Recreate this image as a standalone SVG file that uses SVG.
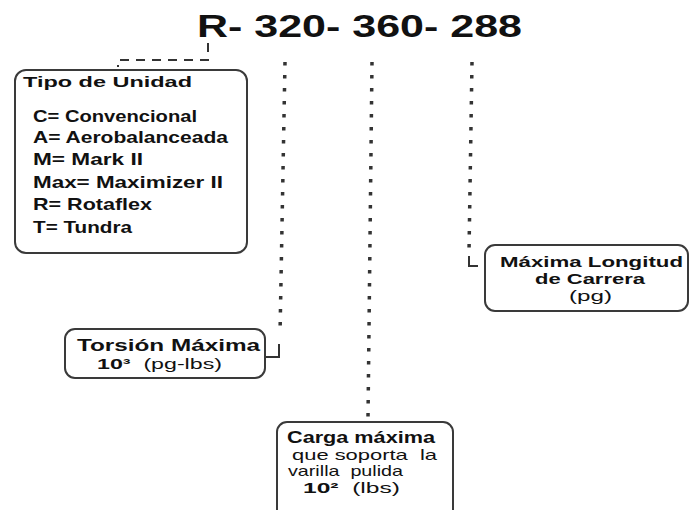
<svg xmlns="http://www.w3.org/2000/svg" width="691" height="510" viewBox="0 0 691 510">
<style>
text{font-family:"Liberation Sans",Arial,sans-serif;fill:#111}
.b{font-weight:bold}
.box{fill:#fff;stroke:#3a3a3a;stroke-width:2}
.dot{fill:none;stroke:#333;stroke-width:3.5;stroke-dasharray:3.5 9.5}
.ln{fill:none;stroke:#333;stroke-width:2}
</style>
<rect width="691" height="510" fill="#fff"/>
<g id="code">
<text class="b" x="197" y="37" font-size="31" textLength="325" lengthAdjust="spacingAndGlyphs">R- 320- 360- 288</text>
</g>
<g id="connectors">
<path class="ln" d="M208,43 V60 H118 V67" stroke-dasharray="9 7"/>
<path class="dot" d="M285,62 L280,335"/>
<path class="ln" d="M279,344 V357 H266"/>
<path class="dot" d="M372,62 L368,418"/>
<path class="dot" d="M472,62 L469,252"/>
<path class="ln" d="M469,256 V266 H478"/>
</g>
<g id="tipo">
<rect class="box" x="15" y="70" width="232" height="183" rx="11"/>
<text class="b" x="23" y="87" font-size="15.5" textLength="169" lengthAdjust="spacingAndGlyphs">Tipo de Unidad</text>
<text class="b" x="33" y="122" font-size="16.5" textLength="164" lengthAdjust="spacingAndGlyphs">C= Convencional</text>
<text class="b" x="33" y="143" font-size="16.5" textLength="195" lengthAdjust="spacingAndGlyphs">A= Aerobalanceada</text>
<text class="b" x="33" y="165" font-size="16.5" textLength="110" lengthAdjust="spacingAndGlyphs">M= Mark II</text>
<text class="b" x="33" y="188" font-size="16.5" textLength="190" lengthAdjust="spacingAndGlyphs">Max= Maximizer II</text>
<text class="b" x="33" y="210" font-size="16.5" textLength="119" lengthAdjust="spacingAndGlyphs">R= Rotaflex</text>
<text class="b" x="33" y="233" font-size="16.5" textLength="99" lengthAdjust="spacingAndGlyphs">T= Tundra</text>
</g>
<g id="torsion">
<rect class="box" x="65" y="329" width="200" height="49" rx="10"/>
<text class="b" x="77" y="351" font-size="16" textLength="183" lengthAdjust="spacingAndGlyphs">Torsión Máxima</text>
<text x="97" y="369" font-size="15" textLength="125" lengthAdjust="spacingAndGlyphs" xml:space="preserve"><tspan class="b">10³</tspan>  (pg-lbs)</text>
</g>
<g id="longitud">
<rect class="box" x="485" y="245" width="203" height="66" rx="10"/>
<text class="b" x="500" y="267" font-size="15" textLength="183" lengthAdjust="spacingAndGlyphs">Máxima Longitud</text>
<text class="b" x="535" y="284" font-size="15" textLength="110" lengthAdjust="spacingAndGlyphs">de Carrera</text>
<text x="569" y="301" font-size="14.5" textLength="43" lengthAdjust="spacingAndGlyphs">(pg)</text>
</g>
<g id="carga">
<rect class="box" x="277" y="422" width="176" height="110" rx="10"/>
<text class="b" x="287" y="443" font-size="16" textLength="148" lengthAdjust="spacingAndGlyphs">Carga máxima</text>
<text x="292" y="460" font-size="15" textLength="145" lengthAdjust="spacingAndGlyphs" xml:space="preserve">que soporta  la</text>
<text x="288" y="476" font-size="15" textLength="115" lengthAdjust="spacingAndGlyphs" xml:space="preserve">varilla  pulida</text>
<text x="303" y="493" font-size="15" textLength="97" lengthAdjust="spacingAndGlyphs" xml:space="preserve"><tspan class="b">10²</tspan>  (lbs)</text>
</g>
</svg>
